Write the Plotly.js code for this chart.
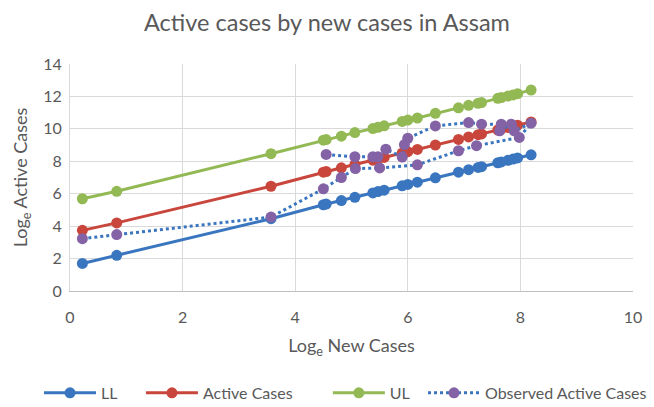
<!DOCTYPE html>
<html>
<head>
<meta charset="utf-8">
<script src="https://cdn.plot.ly/plotly-3.0.1.min.js"></script>
<style>html,body{margin:0;padding:0;background:#fff;}#chart{width:654px;height:407px;}</style>
</head>
<body>
<div id="chart"></div>
<script>
// Fitted model points (x = Loge new cases)
const modelX = [0.22, 0.83, 3.57, 4.50, 4.55, 4.82, 5.06, 5.38, 5.47, 5.58, 5.90, 6.00, 6.17, 6.49, 6.90, 7.08, 7.25, 7.31, 7.60, 7.66, 7.78, 7.87, 7.95, 8.19];
const llY     = [1.70, 2.20, 4.46, 5.32, 5.36, 5.58, 5.78, 6.05, 6.13, 6.22, 6.49, 6.57, 6.71, 6.98, 7.33, 7.48, 7.62, 7.67, 7.91, 7.96, 8.06, 8.14, 8.21, 8.40];
const activeY = [3.74, 4.20, 6.46, 7.33, 7.37, 7.60, 7.80, 8.07, 8.15, 8.24, 8.51, 8.59, 8.73, 9.00, 9.35, 9.50, 9.64, 9.69, 9.93, 9.98, 10.09, 10.16, 10.23, 10.43];
const ulY     = [5.69, 6.15, 8.47, 9.30, 9.34, 9.55, 9.77, 10.02, 10.10, 10.19, 10.46, 10.54, 10.67, 10.96, 11.30, 11.45, 11.58, 11.62, 11.88, 11.93, 12.02, 12.09, 12.17, 12.39];
// Observed points, in drawing order
const obsX = [0.22, 0.83, 3.57, 4.50, 4.82, 5.07, 5.50, 6.17, 6.90, 7.22, 7.98, 8.19, 7.89, 7.84, 7.63, 7.66, 7.31, 7.08, 6.49, 6.00, 5.94, 5.90, 5.61, 5.47, 5.38, 5.06, 4.55];
const obsY = [3.23, 3.48, 4.56, 6.30, 7.00, 7.55, 7.59, 7.78, 8.65, 8.96, 9.47, 10.35, 9.88, 10.29, 9.88, 10.29, 10.29, 10.39, 10.18, 9.42, 9.03, 8.26, 8.75, 8.28, 8.28, 8.28, 8.42];

const seriesNames = ['LL', 'Active Cases', 'UL', 'Observed Active Cases'];
const xTickVals = [0, 2, 4, 6, 8, 10];
const yTickVals = [0, 2, 4, 6, 8, 10, 12, 14];

const font = 'Lato, "Open Sans", sans-serif';
const grey = '#595959';

const traces = [
  {x: modelX, y: llY, name: seriesNames[0], mode: 'lines+markers', legend: 'legend',
   line: {color: '#3A76BF', width: 3}, marker: {color: '#3A76BF', size: 11}},
  {x: modelX, y: activeY, name: seriesNames[1], mode: 'lines+markers', legend: 'legend2',
   line: {color: '#C9463D', width: 3}, marker: {color: '#C9463D', size: 11}},
  {x: modelX, y: ulY, name: seriesNames[2], mode: 'lines+markers', legend: 'legend3',
   line: {color: '#93B955', width: 3}, marker: {color: '#93B955', size: 11}},
  {x: obsX, y: obsY, name: seriesNames[3], mode: 'lines+markers', legend: 'legend4',
   line: {color: '#3A76BF', width: 3, dash: 'dot'}, marker: {color: '#8462A6', size: 11}}
];

function leg(x) {
  return {orientation: 'h', x: x, xanchor: 'left', y: -0.449, yanchor: 'middle',
          font: {size: 16, color: grey, family: font}, itemwidth: 52, bgcolor: 'rgba(0,0,0,0)'};
}

const layout = {
  width: 654, height: 407,
  margin: {l: 70, r: 21, t: 64, b: 116, autoexpand: false},
  paper_bgcolor: '#fff', plot_bgcolor: '#fff',
  font: {family: font, color: grey, size: 14},
  title: {text: 'Active cases by new cases in Assam', font: {family: font, size: 23.5, color: grey},
          x: 0.5, xanchor: 'center', y: 0.945, yanchor: 'middle'},
  xaxis: {range: [0, 10], tickvals: xTickVals, showgrid: true, gridcolor: '#D9D9D9', gridwidth: 1,
          zeroline: false, showline: true, linecolor: '#BFBFBF', ticks: '', automargin: false,
          ticklabelstandoff: 12,
          tickfont: {size: 16, color: grey, family: font},
          title: {text: 'Log<sub>e</sub> New Cases', font: {size: 18, color: grey, family: font}, standoff: 14}},
  yaxis: {range: [0, 14], tickvals: yTickVals, showgrid: true, gridcolor: '#D9D9D9', gridwidth: 1,
          zeroline: false, showline: true, linecolor: '#D9D9D9', ticks: '', automargin: false,
          ticklabelstandoff: 4,
          tickfont: {size: 16, color: grey, family: font},
          title: {text: 'Log<sub>e</sub> Active Cases', font: {size: 18, color: grey, family: font}, standoff: 10}},
  showlegend: true,
  legend: leg(-0.055),
  legend2: leg(0.126),
  legend3: leg(0.458),
  legend4: leg(0.627)
};

Plotly.newPlot('chart', traces, layout, {displayModeBar: false, staticPlot: true});
</script>
</body>
</html>
